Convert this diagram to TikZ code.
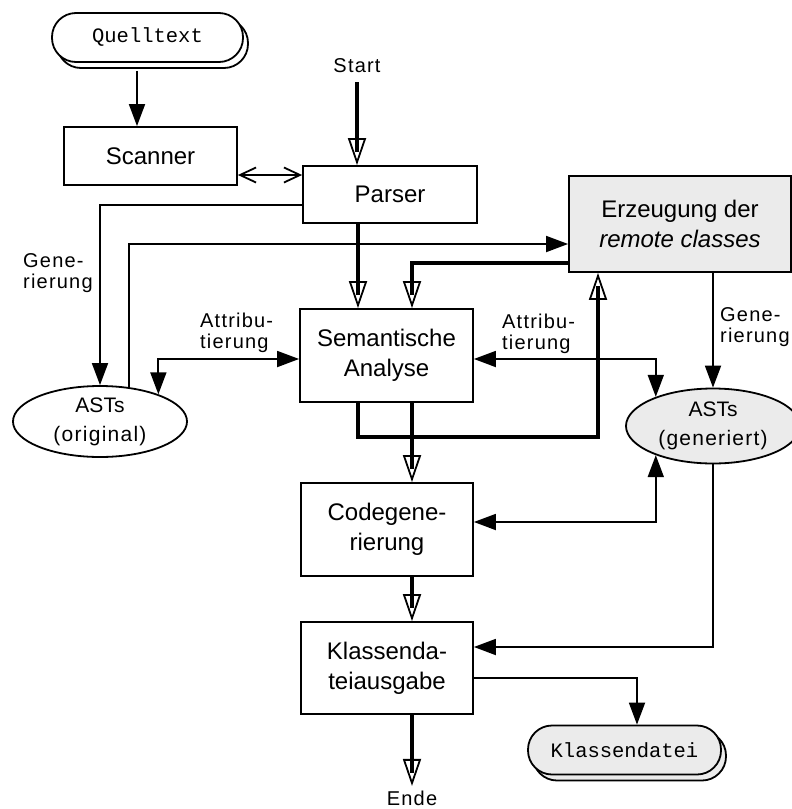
\documentclass[tikz,border=0pt]{standalone}
\usepackage{fontspec}
\setmainfont{Liberation Sans}
\setmonofont{Liberation Mono}
\newfontfamily\labelfont[LetterSpace=6]{Liberation Sans}
\usetikzlibrary{arrows.meta,shapes.geometric,shadows}
\definecolor{panelgray}{RGB}{235,235,235}

\begin{document}
\begin{tikzpicture}[x=1pt,y=-1pt,
  every node/.style={inner sep=0pt},
  box/.style={draw, line width=1.8pt, align=center, font=\fontsize{24}{30}\selectfont},
  pill/.style={draw, line width=1.8pt, rounded corners=24pt, minimum height=49pt,
    font=\ttfamily\fontsize{20.5}{24}\selectfont,
    copy shadow={shadow xshift=5pt, shadow yshift=-6pt}},
  store/.style={ellipse, draw, line width=1.8pt, align=center, minimum width=174pt,
    font=\fontsize{21}{29}\selectfont},
  lbl/.style={align=left, font=\labelfont\fontsize{20}{21}\selectfont},
  term/.style={font=\labelfont\fontsize{20}{21}\selectfont},
  flow/.style={line width=1.8pt, -{Triangle[length=22pt,width=16pt]}},
  flowboth/.style={line width=1.8pt, {Triangle[length=22pt,width=16pt]}-{Triangle[length=22pt,width=16pt]}},
  barbs/.style={line width=1.8pt, {Straight Barb[length=16pt,width=15pt]}-{Straight Barb[length=16pt,width=15pt]}},
  thickflow/.style={line width=4.5pt, shorten >=13pt,
    postaction={draw, line width=1.8pt, shorten >=0pt,
      -{Triangle[open,length=27pt,width=18pt]}}}
]
\useasboundingbox (0,0) rectangle (792,809);
\clip (0,0) rectangle (792,809);

% terminals
\node[pill, fill=white, minimum width=191pt] (quell) at (147.5,37.5) {Quelltext};
\node[pill, fill=panelgray, minimum width=193pt] (kdatei) at (624.5,750) {Klassendatei};
\node[term] (start) at (357,66) {Start};
\node[term] (ende) at (412,798.5) {Ende};

% processing steps
\node[box, minimum width=173pt, minimum height=58pt] (scanner) at (150.5,156) {Scanner};
\node[box, minimum width=174pt, minimum height=57pt] (parser) at (390,194.5) {Parser};
\node[box, fill=panelgray, minimum width=222pt, minimum height=96pt] (erz) at (680,224)
  {Erzeugung der\\\textit{remote classes}};
\node[box, minimum width=173pt, minimum height=93pt] (sem) at (386.5,355.5) {Semantische\\Analyse};
\node[box, minimum width=172pt, minimum height=93pt] (code) at (387,529.5) {Codegene-\\rierung};
\node[box, minimum width=172pt, minimum height=92pt] (klass) at (387,668) {Klassenda-\\teiausgabe};

% syntax trees
\node[store, fill=white, minimum height=71pt] (astsO) at (100,421.5) {ASTs\\{\labelfont (original)}};
\node[store, fill=panelgray, minimum height=75pt] (astsG) at (713,426) {ASTs\\{\labelfont (generiert)}};

% edge labels
\node[lbl, anchor=west] (genL) at (23,273) {Gene-\\rierung};
\node[lbl, anchor=west] (genR) at (720,327) {Gene-\\rierung};
\node[lbl, anchor=west] (attL) at (200,333) {Attribu-\\tierung};
\node[lbl, anchor=west] (attR) at (502,334) {Attribu-\\tierung};

% data connections
\draw[flow] ([xshift=-10.5pt,yshift=-8pt]quell.south) -- ([xshift=-13.5pt]scanner.north);
\draw[barbs] ([yshift=-19pt]scanner.east) -- ([yshift=-19pt]scanner.east -| parser.west);
\draw[flow] ([yshift=-10.5pt]parser.west) -| (astsO.north);
\draw[flow] (astsO.50) |- ([yshift=-20pt]erz.west);
\draw[flowboth] (astsO.25) |- ([yshift=-3.5pt]sem.west);
\draw[flowboth] ([yshift=-3.5pt]sem.east) -| (astsG.153);
\draw[flow] ([xshift=33pt]erz.south) -- (astsG.north);
\draw[flowboth] ([yshift=7.5pt]code.east) -| (astsG.207);
\draw[flow] (astsG.south) |- ([yshift=21pt]klass.east);
\draw[flow] ([yshift=-10pt]klass.east) -| ([xshift=12.5pt]kdatei.north);

% control flow
\draw[thickflow] ([yshift=-9pt]start.south) -- (start.south |- parser.north);
\draw[thickflow] ([xshift=-32pt]parser.south) -- ([xshift=-32pt]parser.south |- sem.north);
\draw[thickflow] ([yshift=-39pt]erz.west) -| ([xshift=25.5pt]sem.north);
\draw[thickflow] ([xshift=-28.5pt]sem.south) -- ++(0,34) -| ([xshift=-82pt]erz.south);
\draw[thickflow] ([xshift=25.5pt]sem.south) -- ([xshift=25.5pt]sem.south |- code.north);
\draw[thickflow] ([xshift=25pt]code.south) -- ([xshift=25pt]code.south |- klass.north);
\draw[thickflow] ([xshift=25pt]klass.south) -- ([yshift=5pt]ende.north);
\end{tikzpicture}
\end{document}
